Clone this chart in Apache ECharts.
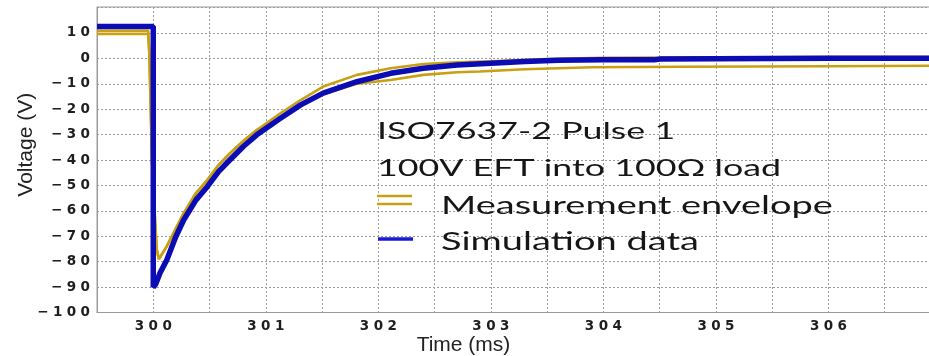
<!DOCTYPE html>
<html>
<head>
<meta charset="utf-8">
<script src="https://cdn.jsdelivr.net/npm/echarts@6/dist/echarts.min.js"></script>
<style>
  html, body { margin: 0; padding: 0; background: #fff; }
  #chart { width: 929px; height: 356px; }
</style>
</head>
<body>
<div id="chart"></div>
<script>
// Simulated pulse waveform (time in ms, voltage in V)
const simTime = [299.5, 300.0, 300.0, 300.02, 300.06, 300.12, 300.2, 300.27, 300.38, 300.48, 300.58, 300.68, 300.8, 300.92, 301.13, 301.31, 301.51, 301.81, 302.11, 302.4, 302.7, 303.0, 303.3, 303.6, 304.0, 304.45, 304.5, 305.0, 306.0, 306.92];
const simVolt = [12.5, 12.5, -90, -89, -84.5, -79.3, -70.2, -63.6, -55.7, -50.5, -44.6, -40, -34.7, -30.1, -23.6, -18.3, -13.7, -9.2, -5.9, -3.9, -2.6, -1.9, -1.2, -0.8, -0.6, -0.6, -0.3, -0.2, 0, 0];

// Measurement envelope, upper trace
const envUpTime = [299.5, 299.955, 299.965, 299.99, 300.03, 300.05, 300.12, 300.2, 300.27, 300.38, 300.48, 300.58, 300.68, 300.8, 300.92, 301.13, 301.31, 301.51, 301.81, 302.11, 302.4, 302.7, 303.0, 303.5, 304.0, 305.0, 306.0, 306.92];
const envUpVolt = [10.8, 10.8, 2, -42, -75, -79, -74, -67, -61, -53, -47.9, -42, -37.4, -32.5, -28.2, -21.6, -16.4, -11.1, -6.5, -3.9, -2.2, -1.6, -1.2, -0.3, 0.2, 0.4, 0.5, 0.5];

// Measurement envelope, lower trace
const envLoTime = [299.5, 299.955, 299.965, 299.99, 300.03, 300.05, 300.12, 300.2, 300.27, 300.38, 300.48, 300.58, 300.68, 300.8, 300.92, 301.13, 301.31, 301.51, 301.81, 302.11, 302.4, 302.7, 302.9, 303.3, 303.9, 304.7, 306.0, 306.92];
const envLoVolt = [9.6, 9.6, 2, -42, -75, -79, -74, -67, -61, -53, -47.9, -42, -37.4, -32.5, -28.2, -23.6, -18.5, -14, -10, -8.5, -6.5, -5.5, -5.2, -4.3, -3.5, -3.3, -3.1, -2.9];

const seriesNames = ['Measurement envelope', 'Simulation data'];
const titleLines = ['ISO7637-2 Pulse 1', '100V EFT into 100Ω load'];
const xTicks = [300, 301, 302, 303, 304, 305, 306];
const yTicks = [10, 0, -10, -20, -30, -40, -50, -60, -70, -80, -90, -100];

const GOLD = '#c9a012';
const BLUE = '#0c0cb4';
const LEGEND_BLUE = '#1818dc';
const INK = '#161616';
const ANNOT_FONT = 'Lato, "Open Sans", sans-serif';

const zip = (xs, ys) => xs.map((x, i) => [x, ys[i]]);

// spaced-out bold tick text
const spaced = s => s.split('').join('\u2004');

// wide annotation text block, drawn inside the plot area
function annotText(str, x, y, size, sx) {
  return {
    type: 'text', x: x, y: y, scaleX: sx, z: 10,
    style: {
      text: str, fontFamily: ANNOT_FONT, fontSize: size,
      fill: INK, align: 'left', verticalAlign: 'middle'
    }
  };
}

const chart = echarts.init(document.getElementById('chart'), null, { renderer: 'canvas' });

chart.setOption({
  animation: false,
  backgroundColor: '#ffffff',
  grid: {
    left: 97, right: -3, top: 7, bottom: 43.5,
    outerBoundsMode: 'none',
    containLabel: false,
    show: true, borderColor: '#9a9a9a', borderWidth: 1
  },
  graphic: [
    annotText(titleLines[0], 377, 131, 24, 1.49),
    annotText(titleLines[1], 377, 168, 24, 1.49),
    // legend keys
    { type: 'rect', z: 10, shape: { x: 377, y: 194.7, width: 35, height: 2.6 }, style: { fill: GOLD } },
    { type: 'rect', z: 10, shape: { x: 377, y: 202.7, width: 35, height: 2.6 }, style: { fill: GOLD } },
    { type: 'rect', z: 10, shape: { x: 378, y: 237.3, width: 35, height: 3.4 }, style: { fill: LEGEND_BLUE } },
    annotText(seriesNames[0], 441, 206, 25, 1.52),
    annotText(seriesNames[1], 441, 242, 25, 1.52)
  ],
  xAxis: {
    type: 'value',
    min: 299.5, max: 306.92, interval: 0.5,
    name: 'Time (ms)',
    nameLocation: 'middle', nameGap: 22, nameMoveOverlap: false,
    nameTextStyle: {
      fontFamily: '"Liberation Sans", Arial, sans-serif',
      fontSize: 21, color: '#222', padding: [0, 102, 0, 0]
    },
    axisLine: { show: true, onZero: false, lineStyle: { color: '#9a9a9a', width: 1 } },
    axisTick: { show: false },
    axisLabel: {
      margin: 7,
      showMaxLabel: false,
      fontFamily: '"DejaVu Sans", Verdana, sans-serif',
      fontWeight: 'bold', fontSize: 13.5, color: '#1e1e1e',
      formatter: v => xTicks.some(t => Math.abs(t - v) < 1e-6) ? spaced(String(Math.round(v))) : ''
    },
    splitLine: { show: true, lineStyle: { color: '#9c9c9c', width: 1, type: [2, 2] } }
  },
  yAxis: {
    type: 'value',
    min: -100, max: 20.2, interval: 10,
    name: 'Voltage (V)',
    nameLocation: 'middle', nameGap: 60, nameRotate: 90, nameMoveOverlap: false,
    nameTextStyle: {
      fontFamily: '"Liberation Sans", Arial, sans-serif',
      fontSize: 21, color: '#222', padding: [0, 0, 0, 30]
    },
    axisLine: { show: true, onZero: false, lineStyle: { color: '#9a9a9a', width: 1 } },
    axisTick: { show: false },
    axisLabel: {
      margin: 7,
      showMaxLabel: false,
      fontFamily: '"DejaVu Sans", Verdana, sans-serif',
      fontWeight: 'bold', fontSize: 13.5, color: '#1e1e1e',
      formatter: v => yTicks.includes(Math.round(v)) ? spaced(String(Math.round(v)).replace('-', '\u2212')) : ''
    },
    splitLine: { show: true, lineStyle: { color: '#9c9c9c', width: 1, type: [2, 2] } }
  },
  series: [
    {
      name: seriesNames[0], type: 'line', showSymbol: false, symbol: 'none',
      data: zip(envLoTime, envLoVolt),
      lineStyle: { color: GOLD, width: 2.6 }, itemStyle: { color: GOLD }, z: 2
    },
    {
      name: seriesNames[0], type: 'line', showSymbol: false, symbol: 'none',
      data: zip(envUpTime, envUpVolt),
      lineStyle: { color: GOLD, width: 2.6 }, itemStyle: { color: GOLD }, z: 2
    },
    {
      name: seriesNames[1], type: 'line', showSymbol: false, symbol: 'none',
      data: zip(simTime, simVolt),
      lineStyle: { color: BLUE, width: 5.5 }, itemStyle: { color: BLUE }, z: 3
    }
  ]
});
</script>
</body>
</html>
